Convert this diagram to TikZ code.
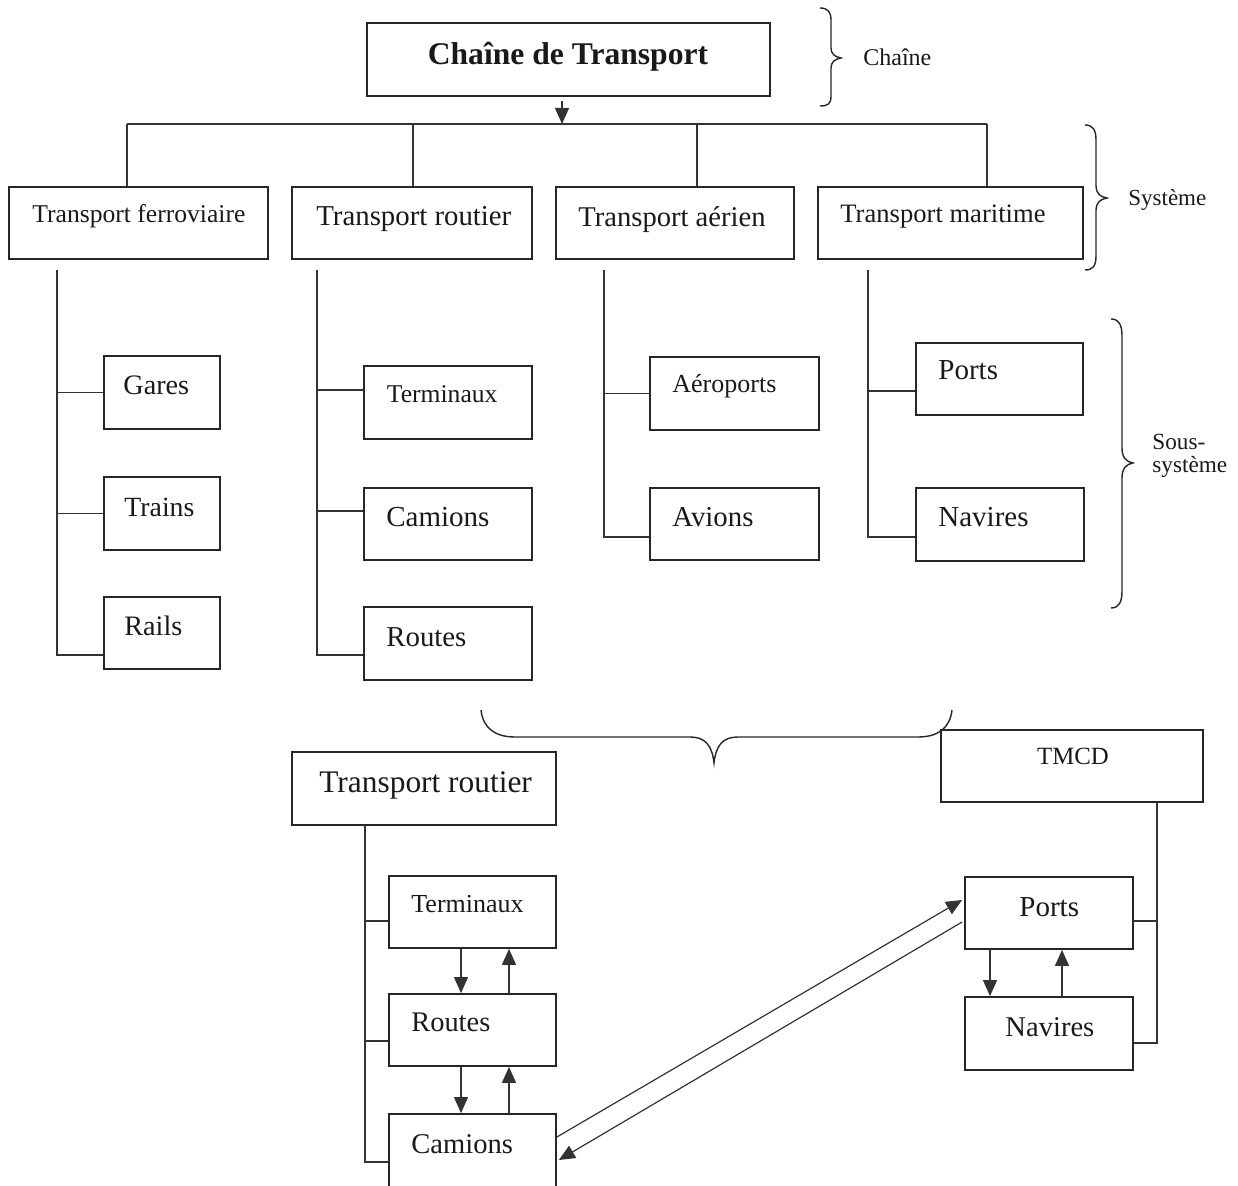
\documentclass[tikz,border=0pt]{standalone}
\usepackage{fontspec}
\setmainfont{Liberation Serif}
\usetikzlibrary{arrows.meta}
\newcommand\txtsize[1]{\fontsize{#1}{#1}\selectfont}

\begin{document}
\begin{tikzpicture}[x=0.5pt,y=-0.5pt,
  box/.style={draw=black!85, line width=0.9pt, rectangle, inner sep=0pt},
  ln/.style={draw=black!80, line width=0.6pt},
  arr/.style={ln, -{Triangle[length=8pt,width=7pt]}},
  lbl/.style={inner sep=0pt, text=black!90},
  brace/.style={draw=black!85, line width=0.7pt}]

\useasboundingbox (0,0) rectangle (1238,1186);
\clip (0,0) rectangle (1238,1186);

% ---------- chain level ----------
\node[box, minimum width=201.5pt, minimum height=36.5pt] (chain) at (568.5,59.5) {};
\node[lbl, anchor=base, font=\txtsize{15.8}\bfseries] (chain-t) at (568,65) {Chaîne de Transport};

% ---------- system level ----------
\node[box, minimum width=129.5pt, minimum height=36pt] (tf) at (138.5,223) {};
\node[box, minimum width=120pt,   minimum height=36pt] (tr) at (412,223) {};
\node[box, minimum width=119pt,   minimum height=36pt] (ta) at (675,223) {};
\node[box, minimum width=132.5pt, minimum height=36pt] (tm) at (950.5,223) {};
\node[lbl, anchor=base west, font=\txtsize{12.8}] (tf-t) at (32,223) {Transport ferroviaire};
\node[lbl, anchor=base west, font=\txtsize{14.4}] (tr-t) at (316,226) {Transport routier};
\node[lbl, anchor=base west, font=\txtsize{14.3}] (ta-t) at (578,227) {Transport aérien};
\node[lbl, anchor=base west, font=\txtsize{13.3}] (tm-t) at (840,223) {Transport maritime};

\coordinate (bc) at (562,124);
\coordinate (b1) at (127,124);
\coordinate (b2) at (413,124);
\coordinate (b3) at (697,124);
\coordinate (b4) at (987,124);
\draw[arr] ([xshift=-3.25pt,yshift=-2pt]chain.south) -- (bc);
\draw[ln] (b1) -- (b4);
\draw[ln] (b1) -- (b1 |- tf.north);
\draw[ln] (b2) -- (b2 |- tr.north);
\draw[ln] (b3) -- (b3 |- ta.north);
\draw[ln] (b4) -- (b4 |- tm.north);

% ---------- sub-system level: rail ----------
\node[box, minimum width=58pt, minimum height=36.5pt] (gares)  at (162,392.5) {};
\node[box, minimum width=58pt, minimum height=36.5pt] (trains) at (162,513.5) {};
\node[box, minimum width=58pt, minimum height=36pt]   (rails)  at (162,633) {};
\node[lbl, anchor=base west, font=\txtsize{14.1}] (gares-t)  at (123,395) {Gares};
\node[lbl, anchor=base west, font=\txtsize{13.9}] (trains-t) at (124,517) {Trains};
\node[lbl, anchor=base west, font=\txtsize{14.1}] (rails-t)  at (124,636) {Rails};
\coordinate (cf) at (57,270);
\draw[ln] (cf) |- (gares.west);
\draw[ln] (cf) |- (trains.west);
\draw[ln] (cf) |- ([yshift=-11pt]rails.west);

% ---------- sub-system level: road ----------
\node[box, minimum width=84pt, minimum height=36.5pt] (rterm)   at (448,402.5) {};
\node[box, minimum width=84pt, minimum height=36pt]   (rcam)    at (448,524) {};
\node[box, minimum width=84pt, minimum height=36.5pt] (rroutes) at (448,643.5) {};
\node[lbl, anchor=base west, font=\txtsize{12.8}] (rterm-t)   at (386.5,403) {Terminaux};
\node[lbl, anchor=base west, font=\txtsize{14.5}] (rcam-t)    at (386,527) {Camions};
\node[lbl, anchor=base west, font=\txtsize{14.4}] (rroutes-t) at (386,647) {Routes};
\coordinate (cr) at (317,270);
\draw[ln] (cr) |- ([yshift=6.25pt]rterm.west);
\draw[ln] (cr) |- ([yshift=6.5pt]rcam.west);
\draw[ln] (cr) |- ([yshift=-5.75pt]rroutes.west);

% ---------- sub-system level: air ----------
\node[box, minimum width=84.5pt, minimum height=36.5pt] (aero)   at (734.5,393.5) {};
\node[box, minimum width=84.5pt, minimum height=36pt]   (avions) at (734.5,524) {};
\node[lbl, anchor=base west, font=\txtsize{13}]   (aero-t)   at (672,393) {Aéroports};
\node[lbl, anchor=base west, font=\txtsize{14.4}] (avions-t) at (672,527) {Avions};
\coordinate (ca) at (604,270);
\draw[ln] (ca) |- (aero.west);
\draw[ln] (ca) |- ([yshift=-6.5pt]avions.west);

% ---------- sub-system level: sea ----------
\node[box, minimum width=83.5pt, minimum height=36pt]   (mports)  at (999.5,379) {};
\node[box, minimum width=84pt,   minimum height=36.5pt] (mnav)    at (1000,524.5) {};
\node[lbl, anchor=base west, font=\txtsize{14.5}] (mports-t) at (938,380) {Ports};
\node[lbl, anchor=base west, font=\txtsize{14.5}] (mnav-t)   at (938,527) {Navires};
\coordinate (cm) at (868,270);
\draw[ln] (cm) |- ([yshift=-6pt]mports.west);
\draw[ln] (cm) |- ([yshift=-6.25pt]mnav.west);

% ---------- braces and level names ----------
\draw[brace] (820,8) .. controls (828,8) and (831,12) .. (831,20) -- (831,48)
  .. controls (831,54) and (835,57) .. (841,58)
  .. controls (835,59) and (831,62) .. (831,68) -- (831,96)
  .. controls (831,104) and (828,106) .. (820,106);
\node[lbl, anchor=base west, font=\txtsize{12}] (lv-chain) at (863,66) {Chaîne};

\draw[brace] (1085,125) .. controls (1093,125) and (1096,130) .. (1096,140) -- (1096,186)
  .. controls (1096,193) and (1100,197) .. (1107,198)
  .. controls (1100,199) and (1096,203) .. (1096,210) -- (1096,256)
  .. controls (1096,266) and (1093,270) .. (1085,270);
\node[lbl, anchor=base west, font=\txtsize{11.5}] (lv-sys) at (1128,206) {Système};

\draw[brace] (1111,319) .. controls (1119,319) and (1122,325) .. (1122,336) -- (1122,448)
  .. controls (1122,457) and (1126,462) .. (1133,463)
  .. controls (1126,464) and (1122,469) .. (1122,478) -- (1122,591)
  .. controls (1122,602) and (1119,608) .. (1111,608);
\node[lbl, anchor=base west, align=left, font=\txtsize{11.6}] (lv-sub) at (1152,473)
  {Sous-\\[0.3pt]système};

\draw[brace] (481,710) .. controls (483,728) and (495,737) .. (515,737) -- (690,737)
  .. controls (705,737) and (712,745) .. (714,763)
  .. controls (716,745) and (723,737) .. (738,737) -- (918,737)
  .. controls (938,737) and (950,728) .. (952,710);

% ---------- road chain detail ----------
\node[box, minimum width=132pt,  minimum height=36.5pt] (btr)     at (424,788.5) {};
\node[box, minimum width=83.5pt, minimum height=36pt]   (bterm)   at (472.5,912) {};
\node[box, minimum width=83.5pt, minimum height=36pt]   (broutes) at (472.5,1030) {};
\node[box, minimum width=83.5pt, minimum height=48pt]   (bcam)    at (472.5,1162) {};
\node[lbl, anchor=base west, font=\txtsize{15.7}] (btr-t)     at (319,793) {Transport routier};
\node[lbl, anchor=base west, font=\txtsize{13}]   (bterm-t)   at (411,913) {Terminaux};
\node[lbl, anchor=base west, font=\txtsize{14.2}] (broutes-t) at (411,1032) {Routes};
\node[lbl, anchor=base west, font=\txtsize{14.3}] (bcam-t)    at (411,1153) {Camions};
\coordinate (rv) at (365,825);
\draw[ln] (rv) |- ([yshift=-4.5pt]bterm.west);
\draw[ln] (rv) |- ([yshift=-5.5pt]broutes.west);
\draw[ln] (rv) |- (bcam.west);
\draw[arr] ([xshift=-5.75pt]bterm.south) -- ([xshift=-5.75pt]broutes.north);
\draw[arr] ([xshift=18.25pt]broutes.north) -- ([xshift=18.25pt]bterm.south);
\draw[arr] ([xshift=-5.75pt]broutes.south) -- ([xshift=-5.75pt]bcam.north);
\draw[arr] ([xshift=18.25pt]bcam.north) -- ([xshift=18.25pt]broutes.south);

% ---------- short sea shipping detail ----------
\node[box, minimum width=131pt, minimum height=36pt]   (tmcd)  at (1072,766) {};
\node[box, minimum width=84pt,  minimum height=36pt]   (bports) at (1049,913) {};
\node[box, minimum width=84pt,  minimum height=36.5pt] (bnav)   at (1049,1033.5) {};
\node[lbl, anchor=base, font=\txtsize{12.4}]       (tmcd-t)   at (1073,765) {TMCD};
\node[lbl, anchor=base west, font=\txtsize{14.5}] (bports-t) at (1019,917) {Ports};
\node[lbl, anchor=base west, font=\txtsize{14.3}] (bnav-t)   at (1005,1037) {Navires};
\coordinate (tv) at (1157,802);
\draw[ln] (tv) |- ([yshift=-4pt]bports.east);
\draw[ln] (tv) |- ([yshift=-4.75pt]bnav.east);
\draw[arr] ([xshift=-29.5pt]bports.south) -- ([xshift=-29.5pt]bnav.north);
\draw[arr] ([xshift=6.5pt]bnav.north) -- ([xshift=6.5pt]bports.south);

% ---------- links between road and sea ----------
\draw[arr] ([yshift=12.5pt]bcam.east) -- ([xshift=-1pt,yshift=6.5pt]bports.west);
\draw[arr] ([xshift=-1pt,yshift=-4.5pt]bports.west) -- ([xshift=1pt,yshift=1pt]bcam.east);

\end{tikzpicture}
\end{document}
